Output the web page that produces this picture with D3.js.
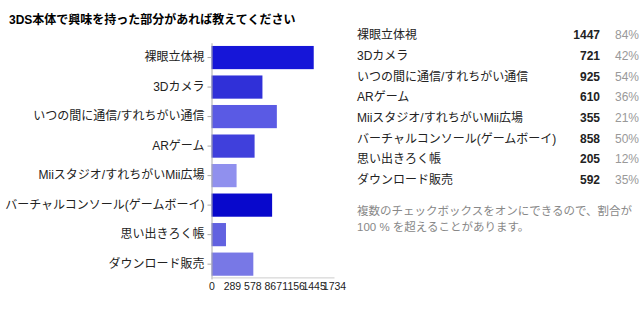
<!DOCTYPE html>
<html><head><meta charset="utf-8">
<script src="https://cdn.jsdelivr.net/npm/d3@7"></script>
<style>
html,body{margin:0;padding:0;background:#fff;}
svg{display:block;}
</style></head>
<body>
<svg id="c" width="640" height="312"></svg>
<script>
const title = "3DS本体で興味を持った部分があれば教えてください";
const categories = ["裸眼立体視","3Dカメラ","いつの間に通信/すれちがい通信","ARゲーム","Miiスタジオ/すれちがいMii広場","バーチャルコンソール(ゲームボーイ)","思い出きろく帳","ダウンロード販売"];
const counts = [1447, 721, 925, 610, 355, 858, 205, 592];
const percents = ["84%","42%","54%","36%","21%","50%","12%","35%"];
const barColors = ["#1616d8","#3030d8","#5a5ae4","#4040dc","#9090ee","#0808cc","#6262e0","#7878e6"];
const tickValues = [0, 289, 578, 867, 1156, 1445, 1734];
const noteLines = ["複数のチェックボックスをオンにできるので、割合が","100 % を超えることがあります。"];

const font = "Arial, 'Liberation Sans', 'Noto Sans CJK JP', sans-serif";
const svg = d3.select("#c");

svg.append("text").attr("x", 9).attr("y", 24)
  .attr("font-family", font).attr("font-size", 12).attr("font-weight", "bold")
  .attr("fill", "#000").text(title);

const x = d3.scaleLinear().domain([0, 1734]).range([211.5, 334]);
const y = d3.scaleBand().domain(categories).range([42.8, 278.9]).paddingInner(0.214).paddingOuter(0.107);

// bars
svg.append("g").selectAll("rect").data(categories).join("rect")
  .attr("x", x(0)).attr("y", d => y(d))
  .attr("width", (d,i) => x(counts[i]) - x(0))
  .attr("height", y.bandwidth())
  .attr("fill", (d,i) => barColors[i]);

// y axis
const yAxis = d3.axisLeft(y).tickSize(4).tickSizeOuter(0).tickPadding(3);
const gy = svg.append("g").attr("transform", `translate(${x(0)},0)`).call(yAxis);
gy.select(".domain").attr("stroke", "#aaa");
gy.selectAll(".tick line").attr("stroke", "#aaa");
gy.selectAll(".tick text").attr("font-family", font).attr("font-size", 12).attr("fill", "#222");

// x axis
const xAxis = d3.axisBottom(x).tickValues(tickValues).tickFormat(d3.format("d")).tickSize(0).tickSizeOuter(0).tickPadding(5);
const gx = svg.append("g").attr("transform", `translate(0,${y.range()[1] - 1.5})`).call(xAxis);
gx.select(".domain").attr("stroke", "#ccc");
gx.selectAll(".tick text").attr("font-family", font).attr("font-size", 10.5).attr("fill", "#222");

// right table
const rowY = d3.scalePoint().domain(categories).range([35, 180]);
const tbl = svg.append("g").attr("font-family", font).attr("font-size", 12);
tbl.selectAll("text.lab").data(categories).join("text").attr("class","lab")
  .attr("x", 357).attr("y", d => rowY(d)).attr("dy", "0.35em").attr("fill", "#222").text(d => d);
tbl.selectAll("text.num").data(categories).join("text").attr("class","num")
  .attr("x", 600).attr("y", d => rowY(d)).attr("dy", "0.35em").attr("text-anchor","end")
  .attr("font-weight","bold").attr("fill","#222").text((d,i) => counts[i]);
tbl.selectAll("text.pct").data(categories).join("text").attr("class","pct")
  .attr("x", 639).attr("y", d => rowY(d)).attr("dy", "0.35em").attr("text-anchor","end")
  .attr("fill","#999").text((d,i) => percents[i]);

svg.append("g").attr("font-family", font).attr("font-size", 11.5).attr("fill", "#888")
  .selectAll("text").data(noteLines).join("text")
  .attr("x", 357).attr("y", (d,i) => 215 + i*16).text(d => d);
</script>
</body></html>
